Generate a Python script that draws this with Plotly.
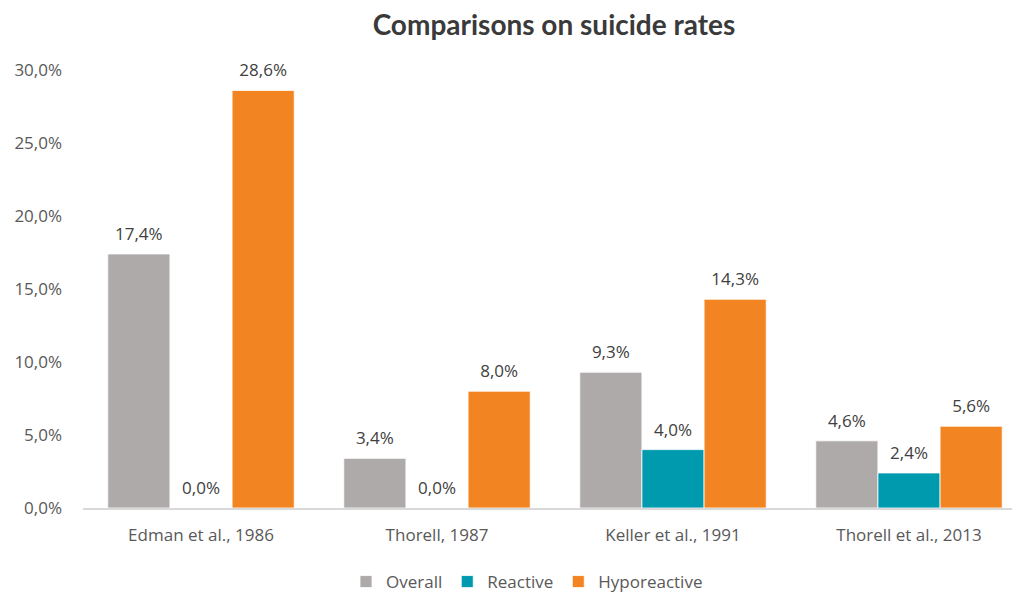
import plotly.graph_objects as go

# Study labels and suicide rates (as fractions) per patient group
studies = ["Edman et al., 1986", "Thorell, 1987", "Keller et al., 1991", "Thorell et al., 2013"]
overall = [0.174, 0.034, 0.093, 0.046]
reactive = [0.000, 0.000, 0.040, 0.024]
hyporeactive = [0.286, 0.080, 0.143, 0.056]

series = [
    ("Overall", overall, "#AEAAAA"),
    ("Reactive", reactive, "#009AAF"),
    ("Hyporeactive", hyporeactive, "#F28522"),
]

body_font = "'Open Sans', sans-serif"
title_font = "Lato, 'Open Sans', sans-serif"

fig = go.Figure()
for name, vals, color in series:
    fig.add_trace(go.Bar(
        x=studies,
        y=vals,
        name=name,
        marker=dict(color=color, line=dict(color="white", width=0.8)),
    ))

# value labels: grouped text-only scatter traces sitting on each bar top
for name, vals, color in series:
    fig.add_trace(go.Scatter(
        x=studies,
        y=vals,
        mode="markers+text",
        marker=dict(size=14, opacity=0),
        texttemplate="%{y:.1%}",
        textposition="top center",
        textfont=dict(size=17, color="#404040", family=body_font),
        showlegend=False,
        hoverinfo="skip",
        cliponaxis=False,
    ))

fig.update_layout(
    width=1016,
    height=594,
    paper_bgcolor="white",
    plot_bgcolor="white",
    separators=",.",
    barmode="group",
    scattermode="group",
    bargap=0.21,
    scattergap=0.21,
    bargroupgap=0,
    margin=dict(l=83, r=4, t=70, b=86, autoexpand=False),
    font=dict(family=body_font, size=17, color="#595959"),
    title=dict(
        text="<b>Comparisons on suicide rates</b>",
        x=554 / 1016,
        xref="container",
        xanchor="center",
        y=0.958,
        yref="container",
        yanchor="middle",
        font=dict(size=28, color="#3A3A3A", family=title_font),
    ),
    legend=dict(
        orientation="h",
        x=(527 - 83) / (1012 - 83),
        xanchor="center",
        yref="container",
        y=1 - 582 / 594,
        yanchor="middle",
        font=dict(size=17, color="#595959", family=body_font),
        itemwidth=30,
        traceorder="normal",
    ),
    xaxis=dict(
        range=[-0.5, (1012 - 83) / 236 - 0.5],
        showline=True,
        linecolor="#D9D9D9",
        linewidth=1.5,
        showgrid=False,
        ticks="",
        ticklabelstandoff=11,
        tickfont=dict(size=17, color="#595959"),
    ),
    yaxis=dict(
        range=[0, 0.30],
        dtick=0.05,
        tickformat=".1%",
        showgrid=False,
        zeroline=False,
        showline=False,
        ticks="",
        ticklabelstandoff=20,
        tickfont=dict(size=17, color="#595959"),
    ),
)

fig.write_html("out.html")
